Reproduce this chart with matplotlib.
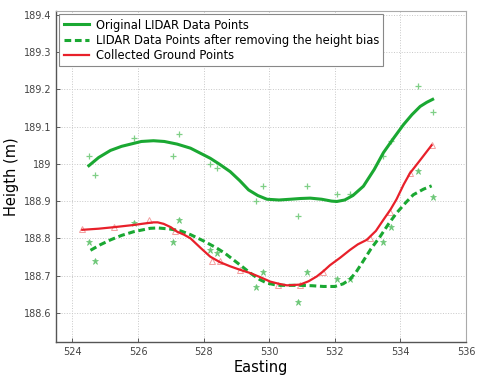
import matplotlib
matplotlib.use("Agg")
import matplotlib.pyplot as plt

# original LIDAR points (+)
orig_x = [524.5, 524.7, 525.87, 527.07, 527.26, 528.2, 528.4, 529.6, 529.8, 530.89,
          531.16, 532.06, 532.46, 533.46, 533.71, 534.54, 535.0]
orig_y = [189.02, 188.97, 189.07, 189.02, 189.08, 189.0, 188.99, 188.90, 188.94, 188.86,
          188.94, 188.92, 188.92, 189.02, 189.06, 189.21, 189.14]

# LIDAR points after removing bias (*)
adj_x = [524.5, 524.7, 525.87, 527.07, 527.26, 528.2, 528.4, 529.6, 529.8, 530.89,
         531.16, 532.06, 532.46, 533.46, 533.71, 534.54, 535.0]
adj_y = [188.79, 188.74, 188.84, 188.79, 188.85, 188.77, 188.76, 188.67, 188.71, 188.63,
         188.71, 188.69, 188.69, 188.79, 188.83, 188.98, 188.91]

# collected ground points (triangles)
gnd_x = [524.3, 525.26, 526.32, 527.13, 528.25, 528.5, 529.1, 530.28, 530.94, 531.65,
         533.07, 533.68, 534.3, 534.95]
gnd_y = [188.825, 188.83, 188.85, 188.82, 188.74, 188.74, 188.716, 188.676, 188.676, 188.71,
         188.80, 188.87, 188.975, 189.05]

# fitted curves
orig_cx = [524.5, 524.8, 525.16, 525.5, 525.87, 526.1, 526.47, 526.8, 527.19, 527.6,
           528.2, 528.5, 528.81, 529.1, 529.37, 529.65, 529.93, 530.3, 530.64, 530.95,
           531.25, 531.6, 531.9, 532.06, 532.3, 532.55, 532.87, 533.2, 533.48, 533.8,
           534.09, 534.35, 534.6, 534.8, 534.98]
orig_cy = [188.995, 189.017, 189.036, 189.047, 189.055, 189.06, 189.062, 189.06, 189.053, 189.042,
           189.015, 188.998, 188.979, 188.955, 188.93, 188.915, 188.905, 188.903, 188.905, 188.907,
           188.908, 188.905, 188.9, 188.899, 188.903, 188.915, 188.94, 188.985, 189.03, 189.07,
           189.105, 189.132, 189.154, 189.165, 189.173]

adj_cx = [524.55, 524.85, 525.16, 525.5, 525.87, 526.37, 526.6, 526.98, 527.3, 527.6,
          528.0, 528.4, 528.65, 528.9, 529.15, 529.42, 529.7, 529.93, 530.15, 530.33,
          530.94, 531.3, 531.65, 532.0, 532.25, 532.46, 532.65, 532.87, 533.1, 533.38,
          533.63, 533.88, 534.15, 534.39, 534.7, 534.95]
adj_cy = [188.768, 188.783, 188.796, 188.808, 188.818, 188.827, 188.828, 188.825, 188.82, 188.81,
          188.793, 188.774, 188.76, 188.743, 188.726, 188.707, 188.69, 188.68, 188.676, 188.674,
          188.674, 188.673, 188.671, 188.671, 188.678, 188.69, 188.71, 188.74, 188.772, 188.805,
          188.838, 188.868, 188.895, 188.917, 188.932, 188.941]

gnd_cx = [524.3, 524.8, 525.26, 525.87, 526.2, 526.47, 526.6, 526.78, 527.0, 527.19,
          527.4, 527.6, 527.9, 528.2, 528.5, 528.81, 529.1, 529.42, 529.75, 530.03,
          530.3, 530.54, 530.94, 531.2, 531.45, 531.65, 531.85, 532.16, 532.46, 532.7,
          532.97, 533.25, 533.48, 533.7, 533.88, 534.1, 534.29, 534.6, 534.95]
gnd_cy = [188.823, 188.826, 188.83, 188.836, 188.84, 188.843, 188.843, 188.839, 188.83, 188.818,
          188.81, 188.80, 188.775, 188.751, 188.736, 188.725, 188.716, 188.707, 188.695, 188.684,
          188.678, 188.674, 188.676, 188.685, 188.698, 188.712, 188.728, 188.748, 188.769, 188.784,
          188.796, 188.82, 188.85, 188.878, 188.905, 188.945, 188.975, 189.01, 189.05]

green = "#1aa832"
red = "#e8202a"

fig = plt.figure(figsize=(4.83, 3.8), dpi=100)
ax = fig.add_axes([0.116, 0.1, 0.849, 0.871])

ax.plot(orig_x, orig_y, "+", color="#7fcf86", ms=5, mew=0.9, zorder=2)
ax.plot(adj_x, adj_y, "*", color="#6cc777", ms=5, mew=0.5, zorder=2)
ax.plot(gnd_x, gnd_y, "^", mfc="none", mec="#f2a0a0", ms=5, mew=0.7, zorder=2)

ax.plot(orig_cx, orig_cy, "-", color=green, lw=2.2, label="Original LIDAR Data Points",
        solid_joinstyle="round", zorder=3)
ax.plot(adj_cx, adj_cy, "--", color=green, lw=2.2, dashes=(2.2, 1.2),
        label="LIDAR Data Points after removing the height bias", zorder=3)
ax.plot(gnd_cx, gnd_cy, "-", color=red, lw=1.6, label="Collected Ground Points",
        solid_joinstyle="round", zorder=4)

ax.set_xlim(523.5, 536)
ax.set_ylim(188.522, 189.41)
ax.set_xticks([524, 526, 528, 530, 532, 534, 536])
ax.set_xticklabels(["524", "526", "528", "530", "532", "534", "536"])
ax.set_yticks([188.6, 188.7, 188.8, 188.9, 189.0, 189.1, 189.2, 189.3, 189.4])
ax.set_yticklabels(["188.6", "188.7", "188.8", "188.9", "189", "189.1", "189.2", "189.3", "189.4"])
ax.tick_params(direction="in", labelsize=7, colors="#444444", length=3, width=0.6)
ax.grid(True, linestyle=":", color="#c8c8c8", lw=0.7)
for s in ["left", "bottom"]:
    ax.spines[s].set_color("#555555")
    ax.spines[s].set_linewidth(1.0)
for s in ["top", "right"]:
    ax.spines[s].set_color("#aaaaaa")
    ax.spines[s].set_linewidth(0.8)

ax.set_xlabel("Easting", fontsize=10.5, labelpad=2)
ax.set_ylabel("Heigth (m)", fontsize=10.5, labelpad=3)

leg = ax.legend(loc="upper left", fontsize=8.3, handlelength=2.2, borderpad=0.35,
                labelspacing=0.2, fancybox=False, framealpha=1, borderaxespad=0.3,
                handletextpad=0.6)
leg.get_frame().set_edgecolor("#888888")
leg.get_frame().set_linewidth(0.8)

fig.savefig("out.png", dpi=100)
